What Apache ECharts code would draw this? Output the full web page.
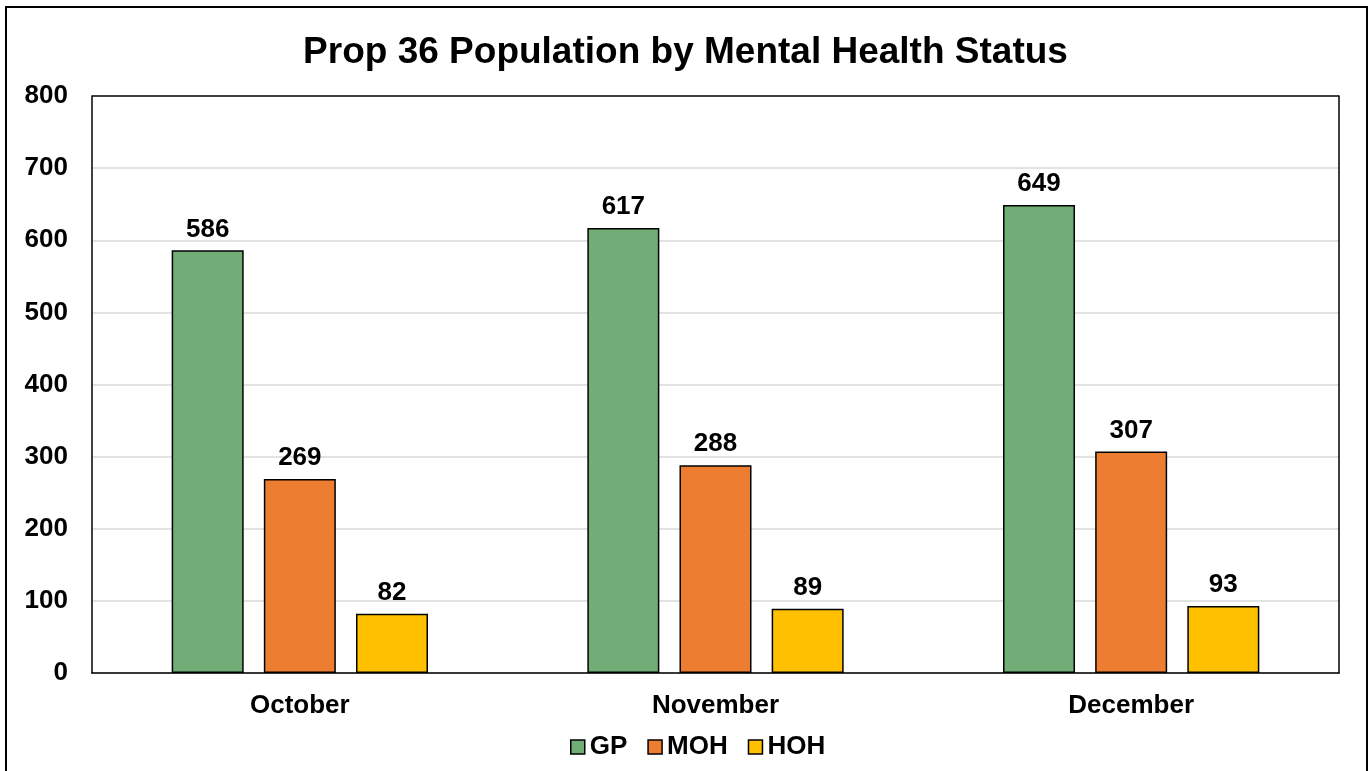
<!DOCTYPE html>
<html>
<head>
<meta charset="utf-8">
<script src="https://cdn.jsdelivr.net/npm/echarts@6/dist/echarts.min.js"></script>
<style>
  html, body { margin: 0; padding: 0; background: #fff; }
  #chart { width: 1371px; height: 771px; }
</style>
</head>
<body>
<div id="chart"></div>
<script>
const months = ["October", "November", "December"];
const gp = [586, 617, 649];
const moh = [269, 288, 307];
const hoh = [82, 89, 93];
const seriesNames = ["GP", "MOH", "HOH"];
const colors = ["#70AD77", "#ED7D31", "#FFC000"];

const font = "Liberation Sans, Arial, sans-serif";
const chart = echarts.init(document.getElementById("chart"));

const boldText = (size) => ({ color: "#000", fontFamily: font, fontWeight: "bold", fontSize: size });

const makeBar = (name, data, color) => ({
  name,
  type: "bar",
  data,
  barWidth: 72,
  barGap: "28%",
  itemStyle: { color, borderColor: "#000", borderWidth: 1.5 },
  label: Object.assign({ show: true, position: "top", distance: 8 }, boldText(26)),
});

// gridlines grey, the topmost one black so it forms the plot frame
const gridColors = ["#d9d9d9", "#d9d9d9", "#d9d9d9", "#d9d9d9", "#d9d9d9", "#d9d9d9", "#d9d9d9", "#d9d9d9", "#000"];

chart.setOption({
  animation: false,
  title: {
    text: "Prop 36 Population by Mental Health Status",
    left: "center",
    top: 29,
    textStyle: boldText(37),
  },
  legend: {
    data: seriesNames,
    bottom: 6,
    left: 565,
    itemWidth: 14,
    itemHeight: 14,
    itemGap: 20,
    icon: "rect",
    itemStyle: { borderColor: "#000", borderWidth: 1.5 },
    textStyle: boldText(26),
  },
  grid: { left: 92, right: 32, top: 96, bottom: 98 },
  xAxis: [
    {
      type: "category",
      data: months,
      axisLine: { lineStyle: { color: "#000", width: 1.5 } },
      axisTick: { show: false },
      axisLabel: Object.assign({ margin: 20 }, boldText(26)),
    },
  ],
  yAxis: [
    {
      type: "value",
      min: 0,
      max: 800,
      interval: 100,
      axisLine: { show: true, lineStyle: { color: "#000", width: 1.5 } },
      axisTick: { show: false },
      splitLine: { lineStyle: { color: gridColors, width: 1.5 } },
      axisLabel: Object.assign({ margin: 24 }, boldText(26)),
    },
    {
      type: "value",
      position: "right",
      min: 0,
      max: 800,
      interval: 100,
      axisLine: { show: true, lineStyle: { color: "#000", width: 1.5 } },
      axisTick: { show: false },
      splitLine: { show: false },
      axisLabel: { show: false },
    },
  ],
  graphic: [
    {
      type: "rect",
      shape: { x: 6, y: 7, width: 1361, height: 820 },
      style: { fill: "none", stroke: "#000", lineWidth: 2 },
      silent: true,
    },
  ],
  series: [
    makeBar(seriesNames[0], gp, colors[0]),
    makeBar(seriesNames[1], moh, colors[1]),
    makeBar(seriesNames[2], hoh, colors[2]),
  ],
});
</script>
</body>
</html>
